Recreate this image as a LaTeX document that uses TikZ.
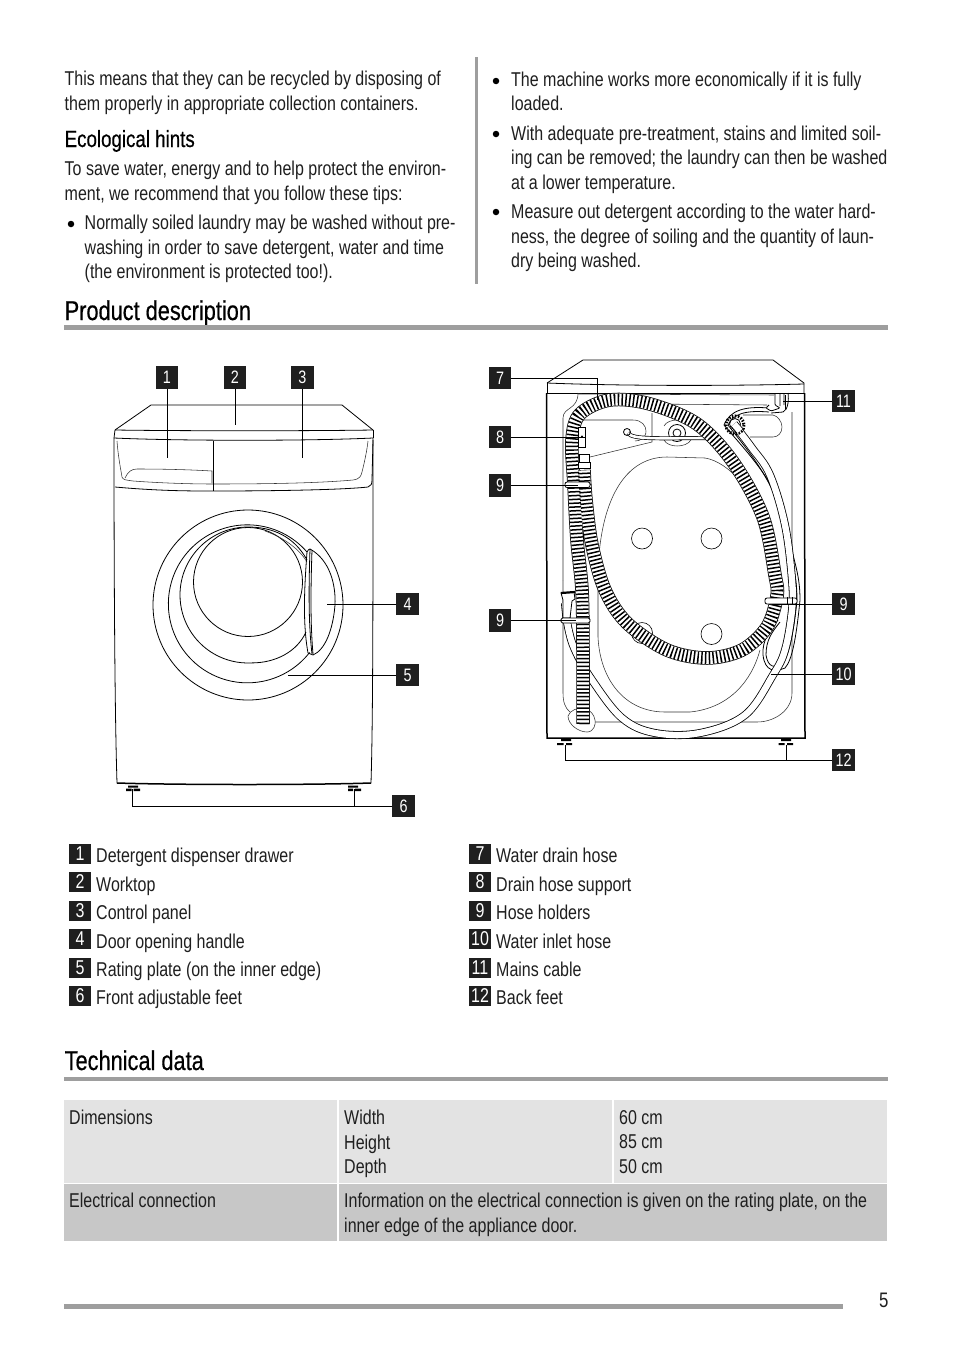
\documentclass[tikz,border=0pt]{standalone}
\usepackage{fontspec}
\setmainfont[FakeStretch=0.8]{Liberation Sans}
\newfontfamily\headfont[FakeStretch=0.8,FakeBold=0.5]{Liberation Sans}
\usetikzlibrary{calc}
\definecolor{rulegray}{gray}{0.62}
\definecolor{cellA}{gray}{0.89}
\definecolor{cellB}{gray}{0.78}
\definecolor{ink}{gray}{0.12}
\tikzset{
  para/.style={anchor=north west,inner sep=0pt,align=left,text=ink,font=\fontsize{20}{24.45}\selectfont},
  head/.style={anchor=base west,inner sep=0pt,text=black,font=\headfont\fontsize{27.2}{30}\selectfont},
  subhead/.style={anchor=base west,inner sep=0pt,text=black,font=\headfont\fontsize{23.4}{26}\selectfont},
  bul/.style={circle,fill=black,inner sep=0pt,minimum size=6.5pt},
  cal/.style={fill=ink,text=white,inner sep=0pt,minimum width=22.5pt,minimum height=22.5pt,font=\fontsize{18}{18}\selectfont},
  lgd/.style={fill=ink,text=white,inner sep=0pt,minimum width=22pt,minimum height=20pt,font=\fontsize{20}{20}\selectfont},
  lgt/.style={anchor=base west,inner sep=0pt,text=ink,font=\fontsize{20}{24}\selectfont},
  lead/.style={draw=black,line width=0.9pt},
  mach/.style={draw=black,line width=0.8pt},
  thin/.style={draw=black!80,line width=0.55pt},
  thick/.style={draw=black,line width=1.5pt},
  grule/.style={fill=rulegray,draw=none},
}
\newcommand\hosepath[1]{
  \draw[line width=13.5pt,black] plot[smooth,tension=0.55] coordinates {#1};
  \draw[line width=12pt,white] plot[smooth,tension=0.55] coordinates {#1};
  \draw[line width=12pt,black,dash pattern=on 1.5pt off 2.3pt] plot[smooth,tension=0.55] coordinates {#1};
}
\newcommand\tube[1]{
  \draw[line width=8pt,black] plot[smooth,tension=0.6] coordinates {#1};
  \draw[line width=6.4pt,white] plot[smooth,tension=0.6] coordinates {#1};
}
\begin{document}
\begin{tikzpicture}[x=1pt,y=-1pt]
\useasboundingbox (0,0) rectangle (954,1352);
\fill[white] (0,0) rectangle (954,1352);

% --- top text
\node[para] (a1) at (64.5,71) {This means that they can be recycled by disposing of\\them properly in appropriate collection containers.};
\node[subhead] (a2) at (64.5,147) {Ecological hints};
\node[para] (a3) at (64.5,161) {To save water, energy and to help protect the environ-\\ment, we recommend that you follow these tips:};
\node[bul] (b1) at (71,224) {};
\node[para] (a4) at (84.5,215) {Normally soiled laundry may be washed without pre-\\washing in order to save detergent, water and time\\(the environment is protected too!).};
\fill[rulegray] (475,57) rectangle (478,284);
\node[bul] (b2) at (496,81) {};
\node[para] (a5) at (511,71.5) {The machine works more economically if it is fully\\loaded.};
\node[bul] (b3) at (496,134) {};
\node[para] (a6) at (511,125.5) {With adequate pre-treatment, stains and limited soil-\\ing can be removed; the laundry can then be washed\\at a lower temperature.};
\node[bul] (b4) at (496,212) {};
\node[para] (a7) at (511,204) {Measure out detergent according to the water hard-\\ness, the degree of soiling and the quantity of laun-\\dry being washed.};

\node[head] (h1) at (64.5,320) {Product description};
\fill[grule] (64,325) rectangle (888,329.5);

% --- FRONT VIEW
\draw[mach,line join=round] (115,430) -- (151,405) -- (342,405) -- (373,430);
\draw[mach] (115,430) .. controls (180,431) and (310,431) .. (373,430);
\draw[mach] (114,438) .. controls (180,441) and (310,441) .. (373,438);
\draw[mach] (115,430) -- (114,438);
\draw[mach] (373,430) -- (373,438);
\draw[mach] (114,438) .. controls (114,600) and (115,720) .. (117,783);
\draw[mach] (373,438) .. controls (373,600) and (373,720) .. (371,783);
\draw[thick] (117,783) .. controls (180,785) and (310,785) .. (371,783);
% panel
\draw[mach] (115,487) .. controls (160,491) and (190,491) .. (213,491) .. controls (270,491) and (340,490) .. (368,487) .. controls (371,486) and (372,484) .. (372,480) -- (373,440);
\draw[thin] (117,441) .. controls (118,455) and (120,465) .. (122,477) .. controls (123,480) and (126,480) .. (133,481) .. controls (160,483) and (190,484) .. (213,484) .. controls (270,484) and (320,483) .. (353,480) .. controls (360,479) and (361,476) .. (362,472) .. controls (365,460) and (367,450) .. (368,441);
\draw[mach] (213.5,441) -- (213.5,491);
\draw[thin] (125,478) .. controls (128,472) and (131,469) .. (137,469) .. controls (170,469) and (195,470) .. (212,471) -- (212,483);
\draw[mach] (248,605) circle[radius=95];
\draw[mach] (307,552) arc[start angle=-41,end angle=-322,radius=79];
\draw[mach] (307,560) .. controls (294,536) and (272,527) .. (248,527) arc[start angle=-90,end angle=-273,radius=68] .. controls (275,663) and (297,652) .. (306,632);
\draw[mach] (248,582) circle[radius=54.5];
\draw[thin] (265,531) .. controls (285,538) and (300,550) .. (307,562);
\draw[mach] (307,552) .. controls (305,580) and (302,620) .. (308,653);
\draw[mach] (310,549) .. controls (309,580) and (308,620) .. (312,654);
\draw[mach] (307,552) .. controls (308,550) and (309,549) .. (310,549) .. controls (330,560) and (336,585) .. (335,605) .. controls (333,630) and (325,650) .. (313,655) -- (308,653);
\draw[mach] (312,550) .. controls (311,580) and (310,620) .. (313,654);
% feet
\fill[black] (128,785.5) rectangle (138,787.5) (126,788.5) rectangle (131.5,791) (133.5,788.5) rectangle (140,791);
\fill[black] (348,785.5) rectangle (358,787.5) (348,788.5) rectangle (353,791) (355,788.5) rectangle (361,791);
% callouts
\node[cal] (c1) at (167,377.5) {1};
\node[cal] (c2) at (235,377.5) {2};
\node[cal] (c3) at (302.5,377.5) {3};
\node[cal] (c4) at (407.5,604) {4};
\node[cal] (c5) at (407.5,675) {5};
\node[cal] (c6) at (403.5,806) {6};
\coordinate (p1) at (167,458);
\coordinate (p2) at (235,425);
\coordinate (p3) at (302.5,458);
\coordinate (p4) at (327,604);
\coordinate (p5) at (288,675);
\coordinate (p6a) at (132.5,789);
\coordinate (p6b) at (354,789);
\draw[lead] (c1.south) -- (p1);
\draw[lead] (c2.south) -- (p2);
\draw[lead] (c3.south) -- (p3);
\draw[lead] (c4.west) -- (p4);
\draw[lead] (c5.west) -- (p5);
\draw[lead] (c6.west) -| (p6a);
\draw[lead] (c6.west -| p6b) -- (p6b);

% --- BACK VIEW
\draw[mach,line join=round] (547,383) -- (583,360) -- (773,360) -- (804,383) -- (804,393);
\draw[mach] (547,383) .. controls (620,386) and (730,386) .. (804,384);
\draw[mach] (547,383) -- (547,393) -- (804,393);
\draw[thick] (546.5,393) -- (547,738) -- (805,738) -- (804.5,393);
\draw[thin] (563,580) -- (563,693) .. controls (563,702) and (565,708) .. (570,712);
\draw[thin] (563,580) -- (563,418) .. controls (563,407) and (578,410) .. (578,393);
\draw[thin] (792,412) -- (792,693) .. controls (792,710) and (775,722) .. (757,722) -- (595,722);
\draw[thin] (585,709) .. controls (578,707) and (570,710) .. (568,716) .. controls (568,724) and (578,732) .. (587,732) .. controls (594,732) and (596,724) .. (595,720) .. controls (594,714) and (590,710) .. (585,709);
% large panel
\draw[thin] (598,580) .. controls (598,510) and (620,457) .. (667,457) -- (705,458) .. controls (730,462) and (755,495) .. (767,523);
\draw[thin] (598,580) -- (598,637) .. controls (600,680) and (625,712) .. (665,712) -- (690,712) .. controls (730,708) and (752,680) .. (760,650);
\foreach \n/\x/\y in {k1/642/538.5,k2/711.5/538.5,k3/642/633,k4/711.5/634}
  \node[circle,draw=black,line width=0.6pt,inner sep=0pt,minimum size=21pt] (\n) at (\x,\y) {};
% pump pocket and pipes
\draw[thin] (581,420) -- (633,420) .. controls (642,420) and (646,426) .. (646,431) .. controls (646,438) and (640,441) .. (635,441);
\draw[thin] (590,457) -- (652,442) -- (652,413);
\draw[thin] (647,404) -- (767,405);
\draw[thin] (743,415) -- (773,415) .. controls (778,416) and (782,422) .. (782,427) .. controls (782,433) and (778,437) .. (773,437) -- (750,437);
\draw[thin] (578,394) -- (775,395);
\draw[mach] (677,433) circle[radius=8.5];
\draw[mach] (677,433) circle[radius=4];
\draw[thin] (664,440) .. controls (668,448) and (686,448) .. (691,440);
\draw[thin] (664,426) .. controls (668,418) and (686,418) .. (691,426);
\draw[line width=4pt,black] (628,433) .. controls (632,440) and (660,438) .. (712,438);
\draw[line width=2.6pt,white] (628,433) .. controls (632,440) and (660,438) .. (712,438);
\draw[mach] (627,432) circle[radius=3.5];
% mains cable
\draw[mach] (769,408) .. controls (745,406) and (730,410) .. (724,425) .. controls (745,450) and (775,480) .. (786,520) .. controls (792,560) and (800,570) .. (800,600) .. controls (796,640) and (792,660) .. (785,668) .. controls (775,672) and (765,672) .. (763,655) .. controls (762,640) and (770,630) .. (778,620);
\draw[mach] (769,412) .. controls (745,410) and (733,414) .. (728,425) .. controls (745,447) and (770,475) .. (782,515) .. controls (790,560) and (797,570) .. (797,600) .. controls (793,640) and (788,655) .. (783,664) .. controls (775,668) and (768,668) .. (766,655) .. controls (766,640) and (772,632) .. (780,622);
\draw[mach,fill=white,rounded corners=1pt] (775,394) -- (775,405) -- (780,408) -- (771,411) -- (766,408) -- (769,405);
\draw[mach] (780,393) -- (780,406) (784,393) -- (784,405) (788,393) .. controls (789,400) and (788,410) .. (783,412) -- (771,413);
% inlet hose
\tube{(736,427) (752,448) (770,475) (785,525) (792,580) (792,610) (785,650) (773,675) (745,715) (700,733) (655,733) (622,718) (592,680) (575,650) (568,627) (565,603)}
\draw[mach,fill=white] (735,424) circle[radius=5.5];
\draw[black,line width=3pt,dash pattern=on 1.5pt off 1.5pt] (735,425) circle[radius=9];
\draw[line width=8pt,black] (734,424) -- (740,431);
\draw[line width=6.4pt,white] (734,424) -- (740,431);
% hose end on the left
\draw[mach,fill=white] (561,593) -- (574,592) -- (575,599) -- (572,601) -- (570,618) -- (563,618) -- (563,600) -- cycle;
\draw[line width=2.2pt,black] (561,593) -- (575,592);
% drain hose
\hosepath{(583,724) (583,650) (582,590) (577,540) (574,485) (572,440) (580,414) (610,400) (650,404) (697,424) (733,462) (763,517) (775,575) (777,596) (767,627) (742,650) (707,658) (667,650) (627,623) (605,590) (592,545) (586,500) (584,470)}
% ferrules and holders
\draw[mach,fill=white] (579,454) rectangle (589,462);
\draw[mach,fill=white] (578,462) rectangle (590,468);
\draw[mach,fill=white] (578,427) rectangle (585.5,447);
\draw[mach] (578,437) -- (585.5,437);
\fill (582,436.5) circle[radius=1.2];
\draw[mach,fill=white,rounded corners=2pt] (565,482) rectangle (590,487.5);
\draw[mach,fill=white,rounded corners=1.5pt] (561,618) rectangle (590,623);
\draw[mach,fill=white,rounded corners=2pt] (765,598) rectangle (797,604);
\draw[mach] (787,597) -- (787,605) (792,597) -- (792,605);
\draw[mach] (785,409) -- (785,395);
% back feet
\fill[black] (561,738.5) rectangle (571,741) (557,743) rectangle (563.5,745) (566,743) rectangle (572,745);
\fill[black] (781,738.5) rectangle (791,741) (778.5,743) rectangle (784.5,745) (787,743) rectangle (793,745);
% callouts
\node[cal] (c7) at (500,378) {7};
\node[cal] (c8) at (500,437) {8};
\node[cal] (c9a) at (500,485.5) {9};
\node[cal] (c9b) at (500,620.5) {9};
\node[cal] (c9c) at (843.5,604) {9};
\node[cal] (c10) at (843.5,674) {10};
\node[cal] (c11) at (843.5,401) {11};
\node[cal] (c12) at (843.5,760) {12};
\coordinate (p7) at (597,400);
\coordinate (p8) at (580,437);
\coordinate (p9a) at (578,485.5);
\coordinate (p9b) at (576,620.5);
\coordinate (p9c) at (772,604);
\coordinate (p10) at (771,674);
\coordinate (p11) at (783,401);
\coordinate (p12a) at (565,745);
\coordinate (p12b) at (786,745);
\draw[lead] (c7.east) -| (p7);
\draw[lead] (c8.east) -- (p8);
\draw[lead] (c9a.east) -- (p9a);
\draw[lead] (c9b.east) -- (p9b);
\draw[lead] (c9c.west) -- (p9c);
\draw[lead] (c10.west) -- (p10);
\draw[lead] (c11.west) -- (p11);
\draw[lead] (c12.west) -| (p12a);
\draw[lead] (c12.west -| p12b) -- (p12b);

% --- LEGEND
\foreach \n/\y/\t in {1/853.5/Detergent dispenser drawer,2/882/Worktop,3/910.5/Control panel,4/939/Door opening handle,5/967.5/Rating plate (on the inner edge),6/995.5/Front adjustable feet}{
  \node[lgd] (l\n) at (80,\y) {\n};
  \node[lgt] (lt\n) at (96,\y+9) {\t};
}
\foreach \n/\y/\t in {7/853.5/Water drain hose,8/882/Drain hose support,9/910.5/Hose holders,10/939/Water inlet hose,11/967.5/Mains cable,12/995.5/Back feet}{
  \node[lgd] (l\n) at (480,\y) {\n};
  \node[lgt] (lt\n) at (496,\y+9) {\t};
}

% --- TECHNICAL DATA
\node[head] (h2) at (64.5,1070) {Technical data};
\fill[grule] (64,1077) rectangle (888,1081);
\fill[cellA] (64,1100) rectangle (337,1183);
\fill[cellA] (339,1100) rectangle (612,1183);
\fill[cellA] (614,1100) rectangle (887,1183);
\fill[cellB] (64,1184) rectangle (337,1241);
\fill[cellB] (339,1184) rectangle (887,1241);
\node[para] (t1) at (69,1110) {Dimensions};
\node[para] (t2) at (344,1110) {Width\\Height\\Depth};
\node[para] (t3) at (619,1110) {60 cm\\85 cm\\50 cm};
\node[para] (t4) at (69,1193) {Electrical connection};
\node[para] (t5) at (344,1193) {Information on the electrical connection is given on the rating plate, on the\\inner edge of the appliance door.};

% --- FOOTER
\fill[grule] (64,1304) rectangle (843,1309);
\node[para,font=\fontsize{21}{24}\selectfont] (pg) at (879,1293) {5};
\end{tikzpicture}
\end{document}
